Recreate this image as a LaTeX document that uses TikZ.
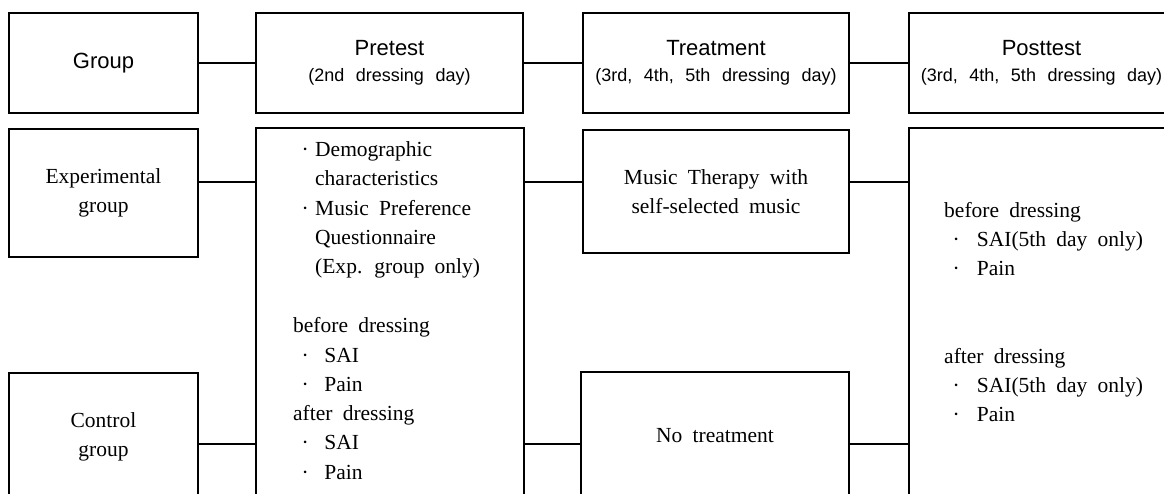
\documentclass[tikz,border=0pt]{standalone}
\usepackage{fontspec}
\setmainfont{Liberation Serif}[WordSpace=1.9]
\newfontfamily\headfont{Liberation Sans}
\newfontfamily\subfont{Liberation Sans}[WordSpace=2.3]
\tikzstyle{head}=[draw, line width=2pt, minimum height=100pt, inner sep=0pt, align=center, font=\headfont\fontsize{22}{26}\selectfont]
\tikzstyle{cell}=[draw, line width=2pt, inner sep=0pt, align=center, font=\fontsize{21.5}{29.4}\selectfont]
\tikzstyle{item}=[anchor=base west, inner sep=0pt, font=\fontsize{21.5}{29.4}\selectfont]
\tikzstyle{link}=[draw, line width=2pt]
\newcommand{\subline}[1]{{\subfont\fontsize{18}{26}\selectfont #1}}
\newcommand{\itemdot}[1]{\makebox[#1pt][l]{·}}

\begin{document}
\begin{tikzpicture}[x=1pt,y=1pt]
    \useasboundingbox (0,0) rectangle (1164,494);
    \clip (0,0) rectangle (1164,494);
    \foreach \pos/\name/\boxw/\txt in {{(103.5,431)/group/189/Group}, {(389.5,431)/pre/267/{Pretest\\\subline{(2nd dressing day)}}}, {(716,431)/treat/266/{Treatment\\\subline{(3rd, 4th, 5th dressing day)}}}, {(1041.5,431)/post/265/{Posttest\\\subline{(3rd, 4th, 5th dressing day)}}}}
        \node[head, minimum width=\boxw pt] (\name) at \pos {\txt};
    \foreach \pos/\name/\boxw/\boxh/\txt in {{(103.5,301)/exp/189/128/{Experimental\\group}}, {(103.5,57)/ctrl/189/128/{Control\\group}}, {(390,173)/pre2/268/386/{}}, {(716,302.5)/music/266/123/{Music Therapy with\\self-selected music}}, {(715,58)/notreat/268/128/{No treatment}}, {(1042,173)/post2/266/386/{}}}
        \node[cell, minimum width=\boxw pt, minimum height=\boxh pt] (\name) at \pos {\txt};
    \coordinate (rowA) at (0,312);
    \coordinate (rowB) at (0,50);
    \foreach \source/\dest in {group/pre, pre/treat, treat/post}
        \path[link] (\source) -- (\dest);
    \foreach \source/\dest/\row in {exp/pre2/rowA, pre2/music/rowA, music/post2/rowA, ctrl/pre2/rowB, pre2/notreat/rowB, notreat/post2/rowB}
        \path[link] (\source.east |- \row) -- (\dest.west |- \row);
    \foreach \x/\y/\txt [count=\i] in {301.3/157/{\itemdot{13.7}Demographic}, 315/186/characteristics, 301.3/215.5/{\itemdot{13.7}Music Preference}, 315/244.5/Questionnaire, 315/273.5/{(Exp. group only)}, 293/333/before dressing, 301.3/362.5/{\itemdot{23}SAI}, 301.3/391.5/{\itemdot{23}Pain}, 293/421/after dressing, 301.3/450/{\itemdot{23}SAI}, 301.3/480/{\itemdot{23}Pain}}
        \node[item] (pretxt\i) at (\x,494-\y) {\txt};
    \foreach \x/\y/\txt [count=\i] in {944/218/before dressing, 952.3/247/{\itemdot{24.4}SAI(5th day only)}, 952.3/276/{\itemdot{24.4}Pain}, 944/364/after dressing, 952.3/393/{\itemdot{24.4}SAI(5th day only)}, 952.3/422/{\itemdot{24.4}Pain}}
        \node[item] (posttxt\i) at (\x,494-\y) {\txt};
\end{tikzpicture}
\end{document}
